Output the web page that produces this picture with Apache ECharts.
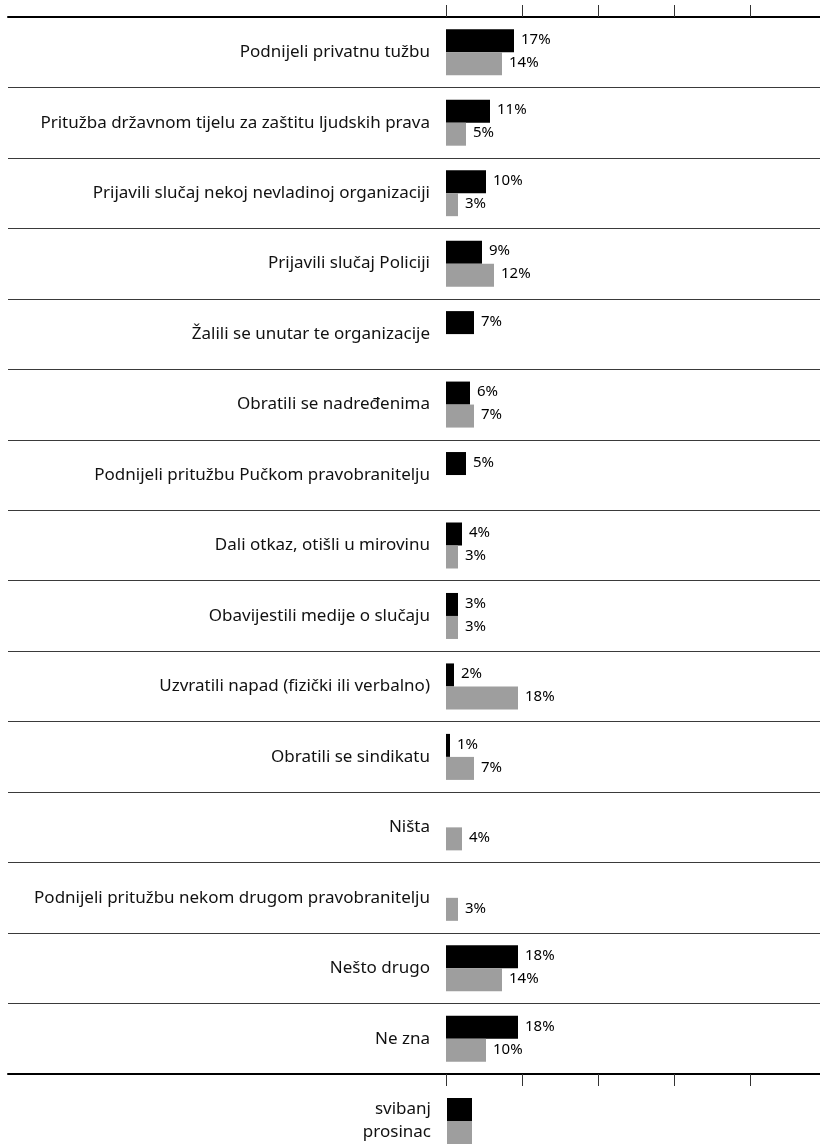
<!DOCTYPE html>
<html>
<head>
<meta charset="utf-8">
<script src="https://cdn.jsdelivr.net/npm/echarts@6/dist/echarts.min.js"></script>
<style>
html,body{margin:0;padding:0;background:#fff;}
#chart{width:820px;height:1145px;}
</style>
</head>
<body>
<div id="chart"></div>
<script>
const categories = [
  'Podnijeli privatnu tužbu',
  'Pritužba državnom tijelu za zaštitu ljudskih prava',
  'Prijavili slučaj nekoj nevladinoj organizaciji',
  'Prijavili slučaj Policiji',
  'Žalili se unutar te organizacije',
  'Obratili se nadređenima',
  'Podnijeli pritužbu Pučkom pravobranitelju',
  'Dali otkaz, otišli u mirovinu',
  'Obavijestili medije o slučaju',
  'Uzvratili napad (fizički ili verbalno)',
  'Obratili se sindikatu',
  'Ništa',
  'Podnijeli pritužbu nekom drugom pravobranitelju',
  'Nešto drugo',
  'Ne zna'
];
const seriesNames = ['svibanj', 'prosinac'];
const svibanj = [17, 11, 10, 9, 7, 6, 5, 4, 3, 2, 1, null, null, 18, 18];
const prosinac = [14, 5, 3, 12, null, 7, null, 3, 3, 18, 7, 4, 3, 14, 10];
const tickValues = [0, 19, 38, 57, 76];

const FONT = 'Noto Sans';
const chart = echarts.init(document.getElementById('chart'), null, {renderer: 'canvas'});

// grid 0: full-width frame lines and row separators
function frameXAxis(pos) {
  return {
    type: 'value', gridIndex: 0, position: pos, min: 0, max: 1,
    axisLine: {show: true, onZero: false, lineStyle: {color: '#000', width: 2}},
    axisTick: {show: false}, axisLabel: {show: false}, splitLine: {show: false}
  };
}
// grid 1: data area with ticks
function dataXAxis(pos) {
  return {
    type: 'value', gridIndex: 1, position: pos, min: 0, max: 93.5,
    axisLine: {show: false, onZero: false},
    axisTick: {show: true, length: 12, customValues: tickValues, lineStyle: {color: '#333', width: 1}},
    axisLabel: {show: false}, splitLine: {show: false}
  };
}

const labelStyle = {
  show: true,
  position: 'right',
  distance: 7,
  offset: [0, -1],
  formatter: '{c}%',
  color: '#000',
  fontFamily: FONT,
  fontSize: 15
};

chart.setOption({
  animation: false,
  textStyle: {fontFamily: FONT},
  grid: [
    {left: 8, right: 0, top: 17, bottom: 71, containLabel: false, outerBoundsMode: 'none'},
    {left: 446, right: 0, top: 17, bottom: 71, containLabel: false, outerBoundsMode: 'none'}
  ],
  xAxis: [frameXAxis('top'), frameXAxis('bottom'), dataXAxis('top'), dataXAxis('bottom')],
  yAxis: [
    {
      type: 'category', gridIndex: 0, data: categories, inverse: true,
      axisLine: {show: false}, axisTick: {show: false}, axisLabel: {show: false},
      splitLine: {show: true, lineStyle: {color: '#3a3a3a', width: 1}}
    },
    {
      type: 'category', gridIndex: 1, data: categories, inverse: true,
      axisLine: {show: false, onZero: false}, axisTick: {show: false},
      axisLabel: {show: true, margin: 16, color: '#111', fontFamily: FONT, fontSize: 17},
      splitLine: {show: false}
    }
  ],
  legend: {
    data: seriesNames,
    orient: 'vertical',
    align: 'right',
    right: 348,
    top: 1098,
    padding: 0,
    itemWidth: 25,
    itemHeight: 23,
    itemGap: 0,
    icon: 'rect',
    textStyle: {fontFamily: FONT, fontSize: 17, color: '#111', padding: [0, 11, 0, 0]}
  },
  series: [
    {
      name: seriesNames[0],
      type: 'bar',
      xAxisIndex: 2,
      yAxisIndex: 1,
      data: svibanj,
      barWidth: 23,
      barGap: '0%',
      itemStyle: {color: '#000'},
      label: labelStyle
    },
    {
      name: seriesNames[1],
      type: 'bar',
      xAxisIndex: 2,
      yAxisIndex: 1,
      data: prosinac,
      barWidth: 23,
      barGap: '0%',
      itemStyle: {color: '#9e9e9e'},
      label: labelStyle
    }
  ]
});
</script>
</body>
</html>
